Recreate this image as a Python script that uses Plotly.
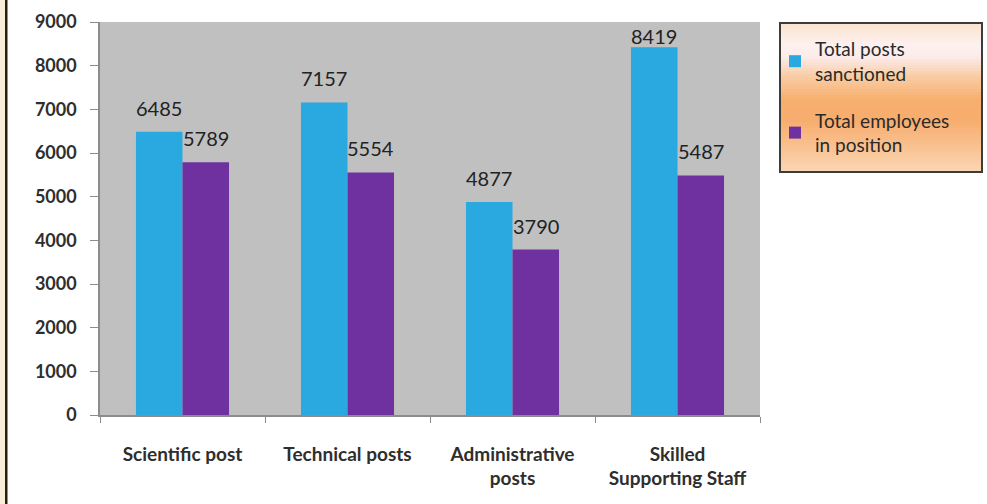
import plotly.graph_objects as go

categories = ["Scientific post", "Technical posts", "Administrative<br>posts", "Skilled<br>Supporting Staff"]
sanctioned = [6485, 7157, 4877, 8419]
employees = [5789, 5554, 3790, 5487]
series_names = ["Total posts<br>sanctioned", "Total employees<br>in position"]
y_ticks = [0, 1000, 2000, 3000, 4000, 5000, 6000, 7000, 8000, 9000]

BLUE = "#2AA8E0"
PURPLE = "#7031A0"
FONT = "Lato"

W, H = 987, 504
ML, MR, MT, MB = 100, 227, 22, 89
PW = W - ML - MR
PH = H - MT - MB
YMAX = 9000
BARGAP = 0.436

fig = go.Figure()
fig.add_trace(go.Bar(x=categories, y=sanctioned, name=series_names[0], marker_color=BLUE,
                     marker_line_width=0, legendgroup="a"))
fig.add_trace(go.Bar(x=categories, y=employees, name=series_names[1], marker_color=PURPLE,
                     marker_line_width=0, legendgroup="b"))

# value labels
cat_w = PW / len(categories)
half = cat_w * (1 - BARGAP) / 4
k = PH / YMAX
annotations = []
for vals, xs in ((sanctioned, -half), (employees, half)):
    for c, v in zip(categories, vals):
        top_px = (YMAX - v) * k
        ys = min(24, top_px - 14)
        annotations.append(dict(x=c, y=v, xref="x", yref="y", text=str(v), showarrow=False,
                                xshift=xs, yshift=ys, yanchor="middle",
                                font=dict(family=FONT, size=20, color="#222222")))

def px2x(px):
    return (px - ML) / PW

def py2y(py):
    return (H - MB - py) / PH

shapes = []
# left page border
shapes.append(dict(type="rect", xref="paper", yref="paper", x0=px2x(0), x1=px2x(5),
                   y0=-0.3, y1=1.2, fillcolor="#F7EFD8", line_width=0, layer="below"))
shapes.append(dict(type="rect", xref="paper", yref="paper", x0=px2x(5), x1=px2x(7.5),
                   y0=-0.3, y1=1.2, fillcolor="#2A1E0E", line_width=0, layer="below"))

# legend gradient background
stops = [(23, (251, 227, 208)), (45, (253, 241, 239)), (58, (251, 234, 232)),
         (75, (249, 207, 168)), (100, (247, 174, 110)), (120, (247, 173, 110)),
         (145, (249, 192, 142)), (172, (251, 214, 180))]
LX0, LX1, LY0, LY1 = 780, 982, 23, 172

def col_at(py):
    for (a, ca), (b, cb) in zip(stops, stops[1:]):
        if a <= py <= b:
            t = (py - a) / (b - a)
            return "rgb(%d,%d,%d)" % tuple(round(ca[i] + (cb[i] - ca[i]) * t) for i in range(3))
    return "rgb(%d,%d,%d)" % stops[-1][1]

step = 3
py = LY0
while py < LY1:
    p2 = min(py + step, LY1)
    shapes.append(dict(type="rect", xref="paper", yref="paper", x0=px2x(LX0), x1=px2x(LX1),
                       y0=py2y(p2 + 0.5), y1=py2y(py), fillcolor=col_at(py + step / 2),
                       line_width=0, layer="below"))
    py = p2
shapes.append(dict(type="rect", xref="paper", yref="paper", x0=px2x(LX0), x1=px2x(LX1),
                   y0=py2y(LY1), y1=py2y(LY0), fillcolor="rgba(0,0,0,0)",
                   line=dict(color="#3C3C3C", width=2), layer="above"))

fig.update_layout(
    width=W, height=H,
    margin=dict(l=ML, r=MR, t=MT, b=MB, autoexpand=False),
    paper_bgcolor="white",
    plot_bgcolor="#C0C0C0",
    barmode="group", bargap=BARGAP, bargroupgap=0,
    font=dict(family=FONT, color="#333333"),
    showlegend=True,
    legend=dict(x=px2x(775), y=py2y(LY0 + 7), xanchor="left", yanchor="top",
                bgcolor="rgba(0,0,0,0)", borderwidth=0, traceorder="grouped",
                font=dict(family=FONT, size=19, color="#2A2A2A"),
                itemwidth=30, tracegroupgap=19),
    annotations=annotations,
    shapes=shapes,
)
fig.update_xaxes(type="category", showline=True, linecolor="#8C8C8C", linewidth=1.5,
                 ticks="outside", tickson="boundaries", ticklen=6, tickcolor="#8C8C8C",
                 tickfont=dict(family=FONT, size=19, color="#2E2E2E", weight="bold"),
                 ticklabelstandoff=21, showgrid=False)
fig.update_yaxes(range=[0, YMAX], tickvals=y_ticks, showline=True, linecolor="#8C8C8C",
                 linewidth=1.5, ticks="outside", ticklen=8, tickcolor="#8C8C8C",
                 tickfont=dict(family=FONT, size=18, color="#2E2E2E", weight="bold"),
                 ticklabelstandoff=10, showgrid=False, zeroline=False)

fig.write_html("out.html", config={"displayModeBar": False},
               post_script="document.body.style.margin='0';document.body.style.overflow='hidden';")
